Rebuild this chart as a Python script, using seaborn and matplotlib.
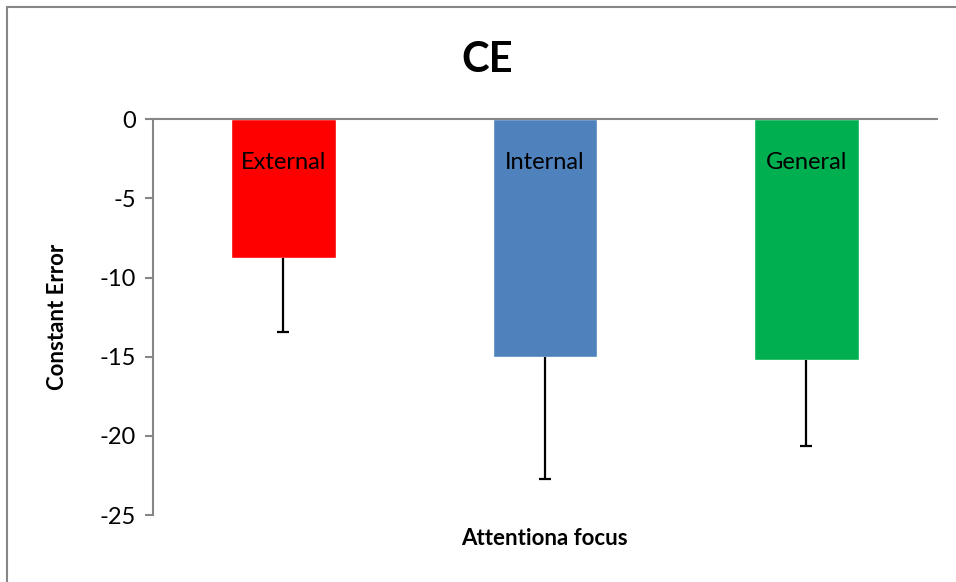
import numpy as np
import seaborn as sns
import matplotlib.pyplot as plt
from matplotlib.patches import Rectangle

categories = ["External", "Internal", "General"]
values = [-8.74, -15.0, -15.19]
errors = [4.72, 7.72, 5.47]
colors = ["#FF0000", "#4F81BD", "#00B050"]
yticks = [0, -5, -10, -15, -20, -25]

sns.set_style("white")
plt.rcParams['font.family'] = ['Lato', 'DejaVu Sans']
plt.rcParams['text.color'] = 'black'
plt.rcParams['axes.labelcolor'] = 'black'
plt.rcParams['ytick.labelcolor'] = 'black'

fig = plt.figure(figsize=(9.56, 5.82), dpi=100)
ax = fig.add_axes([152.7 / 956, 1 - 515 / 582, (937 - 152.7) / 956, (515 - 119.3) / 582])

sns.barplot(x=categories, y=values, hue=categories, palette=colors, width=0.4,
            legend=False, saturation=1, ax=ax)

# minus-only error bars
eb = ax.errorbar(np.arange(len(categories)), values, yerr=[errors, np.zeros(len(errors))],
                 fmt="none", ecolor="black", elinewidth=1.6, capsize=4.3, capthick=1.6, zorder=3)
eb[1][1].set_visible(False)

for i, name in enumerate(categories):
    ax.text(i, -2.7, name, ha="center", va="center", fontsize=17, color="black")

gray = "#868686"
ax.set_xlim(-0.5, len(categories) - 0.5)
ax.set_ylim(-25, 0)
ax.set_yticks(yticks)
ax.set_yticklabels([str(t) for t in yticks], fontsize=17)
ax.tick_params(axis="y", length=6, width=1.5, color=gray, left=True, pad=6)
ax.set_xticks([])
ax.set_xlabel("Attentiona focus", fontsize=16, fontweight="bold")
ax.xaxis.set_label_coords(0.5, -0.033)
ax.set_ylabel("Constant Error", fontsize=16, fontweight="bold")
ax.yaxis.set_label_coords(-0.108, 0.5)

for side in ["bottom", "right"]:
    ax.spines[side].set_visible(False)
for side in ["left", "top"]:
    ax.spines[side].set_color(gray)
    ax.spines[side].set_linewidth(1.5)

fig.text(487 / 956, 1 - 60 / 582, "CE", ha="center", va="center", fontsize=30, fontweight="bold")

fig.patches.append(Rectangle((7 / 956, -0.1), 1.2, 1 - 7 / 582 + 0.1, transform=fig.transFigure,
                             fill=False, edgecolor=gray, linewidth=1.5))

plt.savefig("out.png", dpi=100)
